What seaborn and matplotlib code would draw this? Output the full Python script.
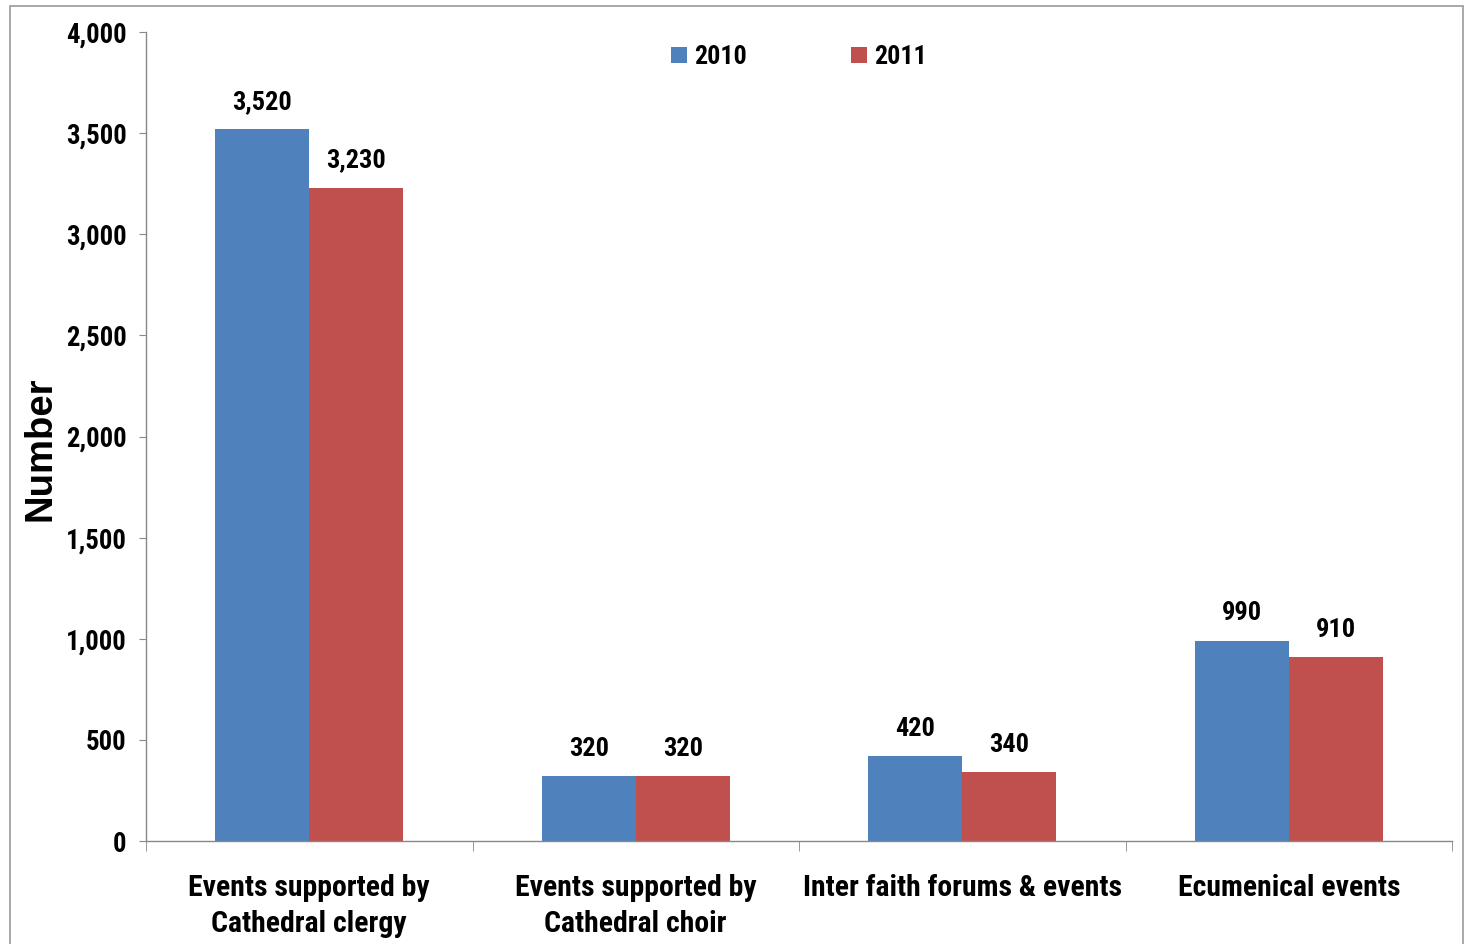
import matplotlib
matplotlib.use("Agg")
import matplotlib.pyplot as plt
import seaborn as sns
import pandas as pd
from matplotlib.patches import Rectangle
from matplotlib.ticker import FuncFormatter
from matplotlib import font_manager as fm

categories = ["Events supported by\nCathedral clergy",
              "Events supported by\nCathedral choir",
              "Inter faith forums & events",
              "Ecumenical events"]
years = ["2010", "2011"]
values_2010 = [3520, 320, 420, 990]
values_2011 = [3230, 320, 340, 910]
colors = ["#4F81BD", "#C0504D"]

df = pd.DataFrame({
    "category": categories * 2,
    "year": [years[0]] * 4 + [years[1]] * 4,
    "value": values_2010 + values_2011,
})

sns.set_style("white")

available = {f.name for f in fm.fontManager.ttflist if f.weight in (700, "bold")}
narrow_font = next((n for n in ["Liberation Sans Narrow", "Arial Narrow", "Roboto Condensed",
                                "Asap Condensed", "Barlow Semi Condensed", "DejaVu Sans"]
                    if n in available), "DejaVu Sans")
narrow = [narrow_font, "DejaVu Sans"]
plt.rcParams["font.family"] = narrow
plt.rcParams["text.color"] = "black"
plt.rcParams["xtick.color"] = "black"
plt.rcParams["ytick.color"] = "black"
plt.rcParams["axes.labelcolor"] = "black"

fig = plt.figure(figsize=(14.69, 9.44), dpi=100)
ax = fig.add_axes([146/1469, 1-841/944, (1452-146)/1469, (841-32)/944])

sns.barplot(data=df, x="category", y="value", hue="year", palette=colors,
            width=0.575, saturation=1, ax=ax, order=categories, hue_order=years,
            linewidth=0)

ax.set_xlim(-0.5, 3.5)
ax.set_ylim(0, 4000)
ax.set_yticks(range(0, 4001, 500))
ax.yaxis.set_major_formatter(FuncFormatter(lambda v, p: f"{int(v):,}"))
for lab in ax.get_yticklabels():
    lab.set_fontweight("bold")
ax.tick_params(axis="y", labelsize=19.3, length=5, color="#888888", labelcolor="black",
               direction="out", pad=9, left=True)
ax.set_xticks([0, 1, 2, 3])
ax.set_xticklabels(categories, fontsize=21.4, fontweight="bold", linespacing=1.37)
ax.tick_params(axis="x", which="major", length=0, pad=24, labelcolor="black")
ax.set_xticks([-0.5, 0.5, 1.5, 2.5, 3.5], minor=True)
ax.tick_params(axis="x", which="minor", length=7, color="#888888", direction="out", bottom=True)

for s in ["top", "right"]:
    ax.spines[s].set_visible(False)
for s in ["left", "bottom"]:
    ax.spines[s].set_color("#888888")
    ax.spines[s].set_linewidth(1)

ax.set_xlabel("")
ax.set_ylabel("Number", fontsize=27.5, fontweight="bold", color="black",
              family=["Liberation Sans", "DejaVu Sans"], va="center")
ax.yaxis.set_label_coords(-0.081, 0.485)

for cont in ax.containers:
    ax.bar_label(cont, labels=[f"{int(v):,}" for v in cont.datavalues],
                 fontsize=19, fontweight="bold", padding=11, color="black")

leg = ax.legend(loc="upper center", bbox_to_anchor=(0.5, 1.0), ncol=2, frameon=False,
                fontsize=18.7, handlelength=0.6, handleheight=0.6, handletextpad=0.3,
                columnspacing=4.0, borderaxespad=0.1)
for t in leg.get_texts():
    t.set_fontweight("bold")
    t.set_color("black")

fig.patches.append(Rectangle((10/1469, -0.01), (1463-10)/1469, 1 - 6/944 + 0.01,
                             transform=fig.transFigure, fill=False,
                             edgecolor="#999999", linewidth=1.2))

fig.savefig("out.png", dpi=100)
